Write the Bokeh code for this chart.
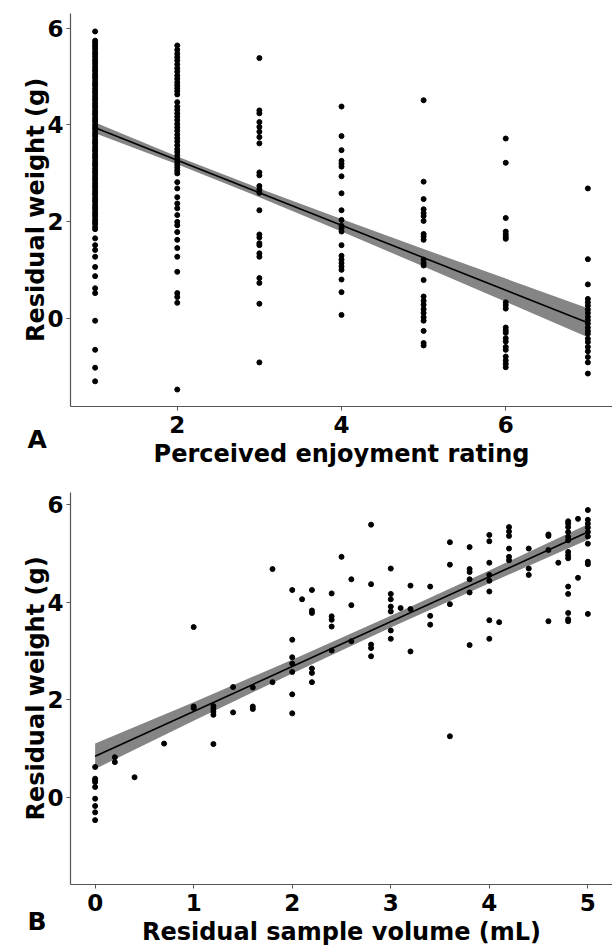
from bokeh.plotting import figure
from bokeh.layouts import column
from bokeh.models import Range1d, Label, FixedTicker
from bokeh.embed import file_html
from bokeh.resources import INLINE

# ---------------- Panel A data ----------------
rating_levels = [1, 2, 3, 4, 5, 6, 7]
wt_r1 = [5.93, 5.74, 5.70, 5.65, 5.61, 5.56, 5.50, 5.46, 5.41, 5.35, 5.31, 5.26, 5.20,
         5.15, 5.11, 5.05, 5.00, 4.96, 4.90, 4.85, 4.81, 4.75, 4.70, 4.66, 4.60, 4.55,
         4.51, 4.45, 4.40, 4.36, 4.30, 4.25, 4.21, 4.15, 4.10, 4.06, 4.00, 3.95, 3.91,
         3.85, 3.80, 3.76, 3.70, 3.65, 3.61, 3.55, 3.50, 3.46, 3.40, 3.35, 3.31, 3.25,
         3.20, 3.16, 3.10, 3.05, 3.01, 2.95, 2.90, 2.86, 2.80, 2.75, 2.71, 2.65, 2.60,
         2.56, 2.50, 2.45, 2.41, 2.35, 2.30, 2.26, 2.20, 2.15, 2.11, 2.05, 2.00, 1.96,
         1.90, 1.85, 1.66, 1.52, 1.42, 1.28, 1.07, 0.88, 0.63, 0.53, -0.04, -0.64,
         -1.01, -1.29]
wt_r2 = [5.64, 5.55, 5.47, 5.40, 5.33, 5.25, 5.17, 5.10, 5.02, 4.95, 4.88, 4.82, 4.76,
         4.70, 4.63, 4.47, 4.38, 4.31, 4.24, 4.17, 4.10, 4.02, 3.95, 3.88, 3.80, 3.73,
         3.66, 3.58, 3.50, 3.44, 3.37, 3.30, 3.24, 3.18, 3.12, 3.06, 3.00, 2.82, 2.69,
         2.51, 2.38, 2.28, 2.14, 2.00, 1.93, 1.79, 1.63, 1.46, 1.28, 0.97, 0.53, 0.45,
         0.33, -1.46]
wt_r3 = [5.38, 4.30, 4.24, 4.06, 3.96, 3.86, 3.75, 3.62, 3.02, 2.96, 2.74, 2.67, 2.60,
         2.24, 1.74, 1.68, 1.56, 1.52, 1.35, 1.28, 0.84, 0.74, 0.31, -0.90]
wt_r4 = [4.38, 3.77, 3.48, 3.26, 3.20, 3.14, 2.94, 2.59, 2.24, 2.04, 1.92, 1.86, 1.80,
         1.52, 1.30, 1.22, 1.15, 1.08, 1.01, 0.81, 0.55, 0.08]
wt_r5 = [4.51, 2.83, 2.47, 2.26, 2.18, 2.12, 2.02, 1.75, 1.70, 1.63, 1.22, 1.15, 1.10,
         0.80, 0.46, 0.37, 0.29, 0.20, 0.12, 0.03, -0.04, -0.25, -0.50, -0.55]
wt_r6 = [3.72, 3.22, 2.08, 1.80, 1.74, 1.69, 1.65, 0.34, 0.28, 0.21, -0.18, -0.24, -0.29,
         -0.40, -0.47, -0.58, -0.64, -0.78, -0.86, -0.93, -1.00]
wt_r7 = [2.69, 1.23, 0.71, 0.41, 0.34, 0.27, 0.19, 0.12, 0.04, -0.03, -0.10, -0.18,
         -0.25, -0.31, -0.41, -0.48, -0.58, -0.67, -0.79, -0.90, -1.13]

fitA_x = [1, 7]
fitA_y = [3.94, -0.08]
ciA_x = [1, 2, 3, 4, 5, 6, 7]
ciA_upper = [4.05, 3.35, 2.69, 2.06, 1.44, 0.83, 0.22]
ciA_lower = [3.83, 3.19, 2.51, 1.80, 1.08, 0.35, -0.38]

# ---------------- Panel B data ----------------
vol = [0, 0, 0, 0, 0, 0, 0, 0, 0,
       0.2, 0.2, 0.4, 0.7,
       1.0, 1.0, 1.0,
       1.2, 1.2, 1.2, 1.2, 1.2,
       1.4, 1.4,
       1.6, 1.6, 1.6,
       1.8, 1.8,
       2.0, 2.0, 2.0, 2.0, 2.0, 2.0, 2.0,
       2.1,
       2.2, 2.2, 2.2, 2.2, 2.2, 2.2,
       2.4, 2.4, 2.4, 2.4, 2.4,
       2.5,
       2.6, 2.6, 2.6,
       2.8, 2.8, 2.8, 2.8, 2.8,
       3.0, 3.0, 3.0, 3.0, 3.0, 3.0, 3.0,
       3.1,
       3.2, 3.2, 3.2,
       3.4, 3.4, 3.4,
       3.6, 3.6, 3.6, 3.6,
       3.8, 3.8, 3.8, 3.8, 3.8, 3.8,
       4.0, 4.0, 4.0, 4.0, 4.0, 4.0, 4.0, 4.0,
       4.1,
       4.2, 4.2, 4.2, 4.2, 4.2, 4.2,
       4.4, 4.4, 4.4,
       4.6, 4.6, 4.6, 4.6,
       4.7,
       4.8, 4.8, 4.8, 4.8, 4.8, 4.8, 4.8, 4.8, 4.8, 4.8, 4.8, 4.8, 4.8, 4.8,
       4.9, 4.9,
       5.0, 5.0, 5.0, 5.0, 5.0, 5.0, 5.0, 5.0, 5.0, 5.0]
wt_vol = [0.62, 0.38, 0.35, 0.31, 0.21, -0.03, -0.18, -0.31, -0.47,
          0.82, 0.72, 0.41, 1.10,
          3.49, 1.86, 1.83,
          1.87, 1.81, 1.75, 1.69, 1.09,
          2.26, 1.74,
          2.25, 1.86, 1.81,
          4.68, 2.36,
          4.25, 3.23, 2.87, 2.74, 2.57, 2.11, 1.72,
          4.06,
          4.25, 3.83, 3.78, 2.64, 2.55, 2.36,
          4.18, 3.71, 3.64, 3.50, 3.01,
          4.93,
          4.47, 3.94, 3.20,
          5.59, 4.37, 3.13, 3.06, 2.89,
          4.69, 4.17, 4.06, 3.91, 3.81, 3.42, 3.25,
          3.88,
          4.34, 3.86, 2.99,
          4.32, 3.72, 3.54,
          5.23, 4.77, 3.96, 1.25,
          5.13, 4.68, 4.62, 4.47, 4.20, 3.12,
          5.38, 5.25, 4.81, 4.56, 4.44, 4.22, 3.63, 3.25,
          3.59,
          5.54, 5.45, 5.36, 5.10, 4.93, 4.86,
          5.10, 4.69, 4.56,
          5.39, 5.36, 5.07, 3.61,
          4.81,
          5.66, 5.61, 5.54, 5.44, 5.34, 5.27, 5.03, 4.96, 4.90, 4.32, 4.17, 3.78, 3.65, 3.61,
          5.71, 4.50,
          5.89, 5.69, 5.61, 5.53, 5.44, 5.35, 5.20, 4.83, 4.78, 3.76]

fitB_x = [0, 5]
fitB_y = [0.84, 5.44]
ciB_x = [0, 1, 2, 3, 4, 5]
ciB_upper = [1.10, 1.95, 2.82, 3.72, 4.65, 5.60]
ciB_lower = [0.58, 1.57, 2.54, 3.48, 4.39, 5.28]

FONT = "DejaVu Sans"
AXIS_COLOR = "#555555"
RIBBON = "#858585"


def style(p, xlabel, ylabel, xticks, yticks):
    p.xgrid.visible = False
    p.ygrid.visible = False
    p.outline_line_color = None
    for ax, lab, ticks in ((p.xaxis[0], xlabel, xticks), (p.yaxis[0], ylabel, yticks)):
        ax.axis_label = lab
        ax.ticker = FixedTicker(ticks=ticks)
        ax.axis_line_color = AXIS_COLOR
        ax.axis_line_width = 1.2
        ax.major_tick_line_color = AXIS_COLOR
        ax.major_tick_out = 4
        ax.major_tick_in = 0
        ax.minor_tick_line_color = None
        ax.major_label_text_font = FONT
        ax.major_label_text_font_style = "bold"
        ax.major_label_text_font_size = "23px"
        ax.major_label_text_color = "black"
        ax.axis_label_text_font = FONT
        ax.axis_label_text_font_style = "bold"
        ax.axis_label_text_font_size = "24px"
        ax.axis_label_text_color = "black"
    p.xaxis[0].major_label_standoff = 5
    p.xaxis[0].axis_label_standoff = 4
    p.yaxis[0].major_label_standoff = 3
    p.yaxis[0].axis_label_standoff = -6


def tag(p, letter, y):
    # panel tag placed in the left side panel (outside the y axis) so it is not clipped
    p.add_layout(Label(x=27, y=y, x_units="screen", y_units="screen", text=letter,
                       text_font=FONT, text_font_style="bold", text_font_size="25px",
                       text_color="black", text_baseline="alphabetic"), "left")


# ---------------- Panel A ----------------
pA = figure(width=612, height=470, output_backend="svg", toolbar_location=None,
            x_range=Range1d(0.7, 7.3), y_range=Range1d(-1.81, 6.3),
            min_border_left=70, min_border_right=0, min_border_top=13,
            min_border_bottom=63)
xs_A, ys_A = [], []
for lvl, vals in zip(rating_levels, [wt_r1, wt_r2, wt_r3, wt_r4, wt_r5, wt_r6, wt_r7]):
    xs_A += [lvl] * len(vals)
    ys_A += vals
pA.varea(x=ciA_x, y1=ciA_lower, y2=ciA_upper, fill_color=RIBBON)
pA.scatter(xs_A, ys_A, size=5, color="black")
pA.line(fitA_x, fitA_y, line_color="black", line_width=1.6)
style(pA, "Perceived enjoyment rating", "Residual weight (g)", [2, 4, 6], [0, 2, 4, 6])
tag(pA, "A", -33)

# ---------------- Panel B ----------------
pB = figure(width=612, height=478, output_backend="svg", toolbar_location=None,
            x_range=Range1d(-0.25, 5.25), y_range=Range1d(-1.79, 6.25),
            min_border_left=70, min_border_right=0, min_border_top=22,
            min_border_bottom=61)
pB.varea(x=ciB_x, y1=ciB_lower, y2=ciB_upper, fill_color=RIBBON)
pB.scatter(vol, wt_vol, size=5, color="black")
pB.line(fitB_x, fitB_y, line_color="black", line_width=1.6)
style(pB, "Residual sample volume (mL)", "Residual weight (g)", [0, 1, 2, 3, 4, 5], [0, 2, 4, 6])
tag(pB, "B", -37)

layout = column(pA, pB, spacing=0)
open("out.html", "w").write(file_html(layout, INLINE))
